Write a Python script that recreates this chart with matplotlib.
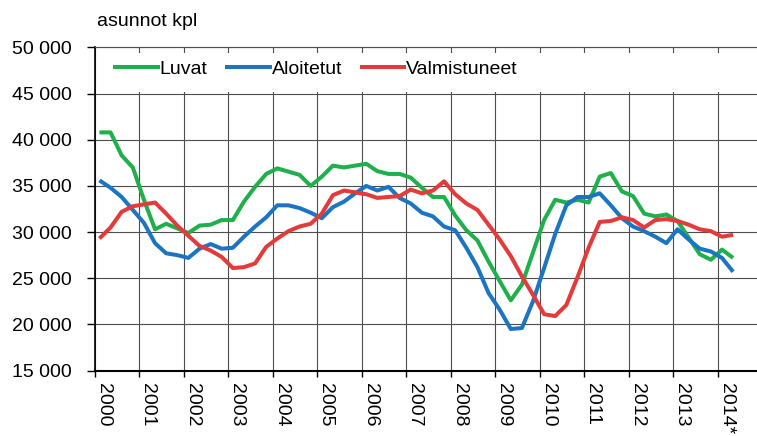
import numpy as np
import matplotlib
matplotlib.use("Agg")
import matplotlib.pyplot as plt
from matplotlib.patches import Rectangle
from matplotlib.ticker import FuncFormatter

plt.rcParams['font.family'] = ['Liberation Sans', 'DejaVu Sans']

# Quarterly series 2000Q1 .. 2014Q2
luvat = [40800, 40800, 38300, 37000,
         33500, 30300, 30900, 30400,
         29900, 30700, 30800, 31300,
         31300, 33300, 34900, 36300,
         36900, 36550, 36200, 35000,
         36000, 37200, 37000, 37200,
         37400, 36600, 36300, 36300,
         35900, 34800, 33800, 33800,
         31800, 30200, 29100, 26800,
         24700, 22600, 24300, 27800,
         31300, 33500, 33200, 33500,
         33200, 36000, 36400, 34400,
         33900, 32000, 31700, 31900,
         31200, 29400, 27600, 27000,
         28100, 27200]
aloitetut = [35600, 34800, 33800, 32400,
             31000, 28800, 27700, 27500,
             27200, 28200, 28700, 28200,
             28300, 29500, 30600, 31600,
             32900, 32900, 32600, 32100,
             31500, 32700, 33300, 34200,
             35000, 34500, 34900, 33700,
             33100, 32100, 31700, 30600,
             30200, 28300, 26200, 23400,
             21600, 19500, 19600, 22500,
             26100, 29800, 32900, 33800,
             33800, 34200, 32900, 31500,
             30600, 30100, 29500, 28800,
             30300, 29200, 28200, 27900,
             27200, 25700]
valmistuneet = [29300, 30500, 32200, 32800,
                33000, 33200, 32000, 30700,
                29600, 28500, 28000, 27300,
                26100, 26200, 26600, 28400,
                29300, 30100, 30600, 30900,
                32000, 34000, 34500, 34300,
                34100, 33700, 33800, 33900,
                34600, 34200, 34500, 35500,
                34100, 33100, 32400, 30800,
                29200, 27400, 25200, 23200,
                21100, 20900, 22100, 25100,
                28300, 31100, 31200, 31600,
                31300, 30500, 31300, 31400,
                31200, 30800, 30300, 30100,
                29500, 29700]
series_names = ["Luvat", "Aloitetut", "Valmistuneet"]
year_labels = [str(y) for y in range(2000, 2014)] + ["2014*"]

colors = ["#1FAF4B", "#1B75C2", "#E43A3A"]

n = len(luvat)
x = 2000 + (np.arange(n) + 0.4) / 4.0

fig = plt.figure(figsize=(7.57, 4.36), dpi=100)
ax = fig.add_axes([95/757, 1 - 370.5/436, (762 - 95)/757, (370.5 - 47.5)/436])

ax.set_xlim(2000, 2015)
ax.set_ylim(15000, 50000)
ax.set_axisbelow(True)
ax.grid(True, color="#4d4d4d", linewidth=0.8)

# white band behind legend
ax.add_patch(Rectangle((0.004, 0.862), 0.996, 0.121, transform=ax.transAxes,
                       facecolor="white", edgecolor="none", zorder=1))

for data, name, c in zip([luvat, aloitetut, valmistuneet], series_names, colors):
    ax.plot(x, data, color=c, linewidth=2.9, label=name, zorder=3,
            solid_joinstyle="round", solid_capstyle="butt")

ax.set_yticks(np.arange(15000, 50001, 5000))
ax.yaxis.set_major_formatter(FuncFormatter(lambda v, p: f"{int(v):,}".replace(",", " ")))
ax.set_xticks(np.arange(2000, 2015))
ax.set_xticklabels(year_labels, rotation=270, ha="left", va="top",
                   rotation_mode="default")

ax.tick_params(axis="y", direction="out", length=5.5, width=1, pad=11,
               labelsize=14, colors="black")
ax.tick_params(axis="x", direction="out", length=4, width=1, pad=5,
               labelsize=14, colors="black")

for s in ["right"]:
    ax.spines[s].set_visible(False)
ax.spines["top"].set_color("#4d4d4d")
ax.spines["top"].set_linewidth(0.8)
ax.spines["left"].set_color("black")
ax.spines["left"].set_linewidth(1.2)
ax.spines["bottom"].set_color("black")
ax.spines["bottom"].set_linewidth(1.5)

leg = ax.legend(loc="center left", bbox_to_anchor=(0.027, 0.9325), ncol=3,
                frameon=False, fontsize=14, handlelength=2.4, handletextpad=0.0,
                columnspacing=0.9, borderpad=0, borderaxespad=0)

fig.text(97/757, 1 - 26/436, "asunnot kpl", fontsize=14, ha="left", va="baseline")

fig.savefig("out.png", dpi=100)
